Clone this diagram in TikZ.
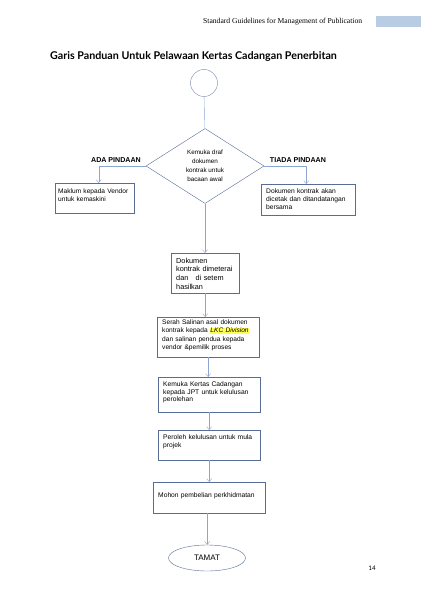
\documentclass[tikz,border=0pt]{standalone}
\usepackage{fontspec}
\setmainfont{Liberation Sans}
\newfontfamily\headfont{Liberation Serif}
\newfontfamily\titlefont{Lato}
\newfontfamily\numfont{Carlito}
\usetikzlibrary{shapes.geometric,arrows.meta}
\definecolor{boxline}{RGB}{88,108,148}
\definecolor{arrowline}{RGB}{140,165,210}
\definecolor{headbar}{RGB}{184,204,228}
\definecolor{hilite}{RGB}{255,255,80}
\setlength{\fboxsep}{0.6pt}
\hyphenpenalty=10000
\tikzset{
  stepbox/.style={draw=boxline,rectangle,anchor=north west,inner xsep=5pt,inner ysep=3pt,
    text width=#1,align=left,font=\fontsize{6.7}{7.8}\selectfont},
  flow/.style={draw=arrowline,-{Straight Barb[length=3pt,width=5pt]}},
  branch/.style={font=\bfseries\fontsize{7.1}{8}\selectfont}
}
\begin{document}
\begin{tikzpicture}[x=1pt,y=-1pt]
  \useasboundingbox[fill=white] (0,0) rectangle (421,599);
  \fill[headbar] (376,16) rectangle (421,27);
  \node[anchor=west,inner sep=0,font=\headfont\fontsize{7.6}{9}\selectfont] (head) at (203,22)
    {Standard Guidelines for Management of Publication};
  \node[anchor=west,inner sep=0,font=\titlefont\bfseries\fontsize{10.7}{12}\selectfont] (title) at (50,56)
    {Garis Panduan Untuk Pelawaan Kertas Cadangan Penerbitan};

  \node[circle,draw=boxline!80,minimum size=27pt,inner sep=0] (start) at (204,83) {};
  \node[diamond,draw=boxline,minimum width=118pt,minimum height=75pt,inner sep=0,aspect=1.57,
    align=center,font=\fontsize{6.3}{9}\selectfont] (dia) at (205,166)
    {Kemuka draf\\dokumen\\kontrak untuk\\bacaan awal};
  \node[branch] (ada) at (116,160) {ADA PINDAAN};
  \node[branch] (tiada) at (298,160) {TIADA PINDAAN};

  \node[stepbox=73pt,inner xsep=3pt,text height=7pt,text depth=17pt,font=\fontsize{6.6}{7.8}\selectfont] (vendor) at (55,183)
    {Maklum kepada Vendor\\untuk kemaskini};
  \node[stepbox=84pt,text height=6.5pt,text depth=18.5pt] (cetak) at (261,184)
    {Dokumen kontrak akan\\dicetak dan ditandatangan\\bersama};
  \node[stepbox=58pt,text height=7pt,text depth=27pt,font=\fontsize{7.3}{8.7}\selectfont] (meterai) at (171,253)
    {Dokumen\\kontrak dimeterai\\dan \ \ di setem\\hasilkan};
  \node[stepbox=92pt,text height=4.5pt,text depth=29.5pt,font=\fontsize{6.6}{8.2}\selectfont] (serah) at (157,317)
    {Serah Salinan asal dokumen\\kontrak kepada \colorbox{hilite}{\itshape LKC Division}\\dan salinan pendua kepada\\vendor \&pemilik proses};
  \node[stepbox=92pt,text height=6pt,text depth=23pt] (kertas) at (158,377)
    {Kemuka Kertas Cadangan\\kepada JPT untuk kelulusan\\perolehan};
  \node[stepbox=92pt,text height=6pt,text depth=18pt] (lulus) at (158,430)
    {Peroleh kelulusan untuk mula\\projek};
  \node[stepbox=102pt,text height=12pt,text depth=13pt] (mohon) at (153,482)
    {Mohon pembelian perkhidmatan};
  \node[ellipse,draw=boxline,minimum width=77pt,minimum height=26pt,inner sep=0,
    font=\fontsize{8}{9}\selectfont] (tamat) at (207,558) {TAMAT};
  \node[font=\numfont\fontsize{7}{8}\selectfont] (page) at (372,568) {14};

  \draw[draw=arrowline] (start) -- (dia);
  \draw[flow] (dia.west) -| ([xshift=4pt]vendor.north);
  \draw[flow] (dia.east) -| ([xshift=-2pt]cetak.north);
  \draw[flow] (dia.south) -- (dia.south |- meterai.north);
  \draw[flow] (meterai.south) -- (meterai.south |- serah.north);
  \draw[flow] (serah.south) -- (serah.south |- kertas.north);
  \draw[flow] (kertas.south) -- (kertas.south |- lulus.north);
  \draw[flow] (lulus.south) -- (lulus.south |- mohon.north);
  \draw[flow] ([xshift=-2pt]mohon.south) -- ([xshift=-2pt]mohon.south |- tamat.north);
\end{tikzpicture}
\end{document}
